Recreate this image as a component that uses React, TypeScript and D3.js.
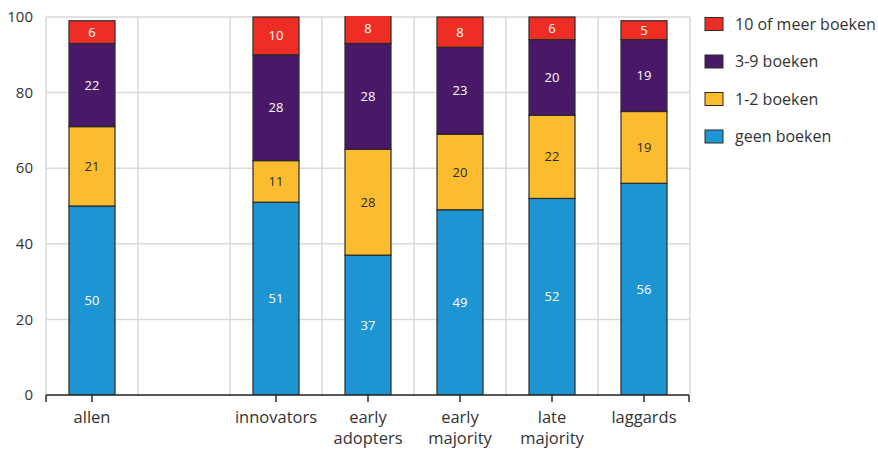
import React from "react";
import * as d3 from "d3";

// Categories on the x axis; the empty slot keeps a gap after "allen".
const categories: string[] = ["allen", "", "innovators", "early adopters", "early majority", "late majority", "laggards"];
const categoryLines: string[][] = [["allen"], [], ["innovators"], ["early", "adopters"], ["early", "majority"], ["late", "majority"], ["laggards"]];

// Stack series, bottom to top (percentages per category, null for the empty slot).
const geenBoeken: (number | null)[] = [50, null, 51, 37, 49, 52, 56];
const eenTweeBoeken: (number | null)[] = [21, null, 11, 28, 20, 22, 19];
const drieNegenBoeken: (number | null)[] = [22, null, 28, 28, 23, 20, 19];
const tienOfMeerBoeken: (number | null)[] = [6, null, 10, 8, 8, 6, 5];

const seriesNames: string[] = ["geen boeken", "1-2 boeken", "3-9 boeken", "10 of meer boeken"];
const seriesColors: string[] = ["#1e95d3", "#fbbc2f", "#4a1869", "#ee2e24"];
const labelColors: string[] = ["#ffffff", "#2b2b2b", "#ffffff", "#ffffff"];

const yTicks: number[] = [0, 20, 40, 60, 80, 100];

const FONT = "'Open Sans', 'DejaVu Sans', sans-serif";

export default function App() {
  const width = 878;
  const height = 449;
  const left = 46;
  const right = 690;
  const top = 17;
  const bottom = 395;

  const x = d3.scaleBand<string>().domain(categories.map((c, i) => String(i))).range([left, right]).paddingInner(0).paddingOuter(0);
  const y = d3.scaleLinear().domain([0, 100]).range([bottom, top]);
  const barW = x.bandwidth() / 2;

  const series = [geenBoeken, eenTweeBoeken, drieNegenBoeken, tienOfMeerBoeken];

  const bars: React.ReactNode[] = [];
  const labels: React.ReactNode[] = [];
  categories.forEach((_, ci) => {
    if (geenBoeken[ci] == null) return;
    const cx = (x(String(ci)) as number) + x.bandwidth() / 2;
    let base = 0;
    series.forEach((s, si) => {
      const v = s[ci] as number;
      const y0 = y(base);
      const y1 = y(base + v);
      bars.push(
        <rect key={`b${ci}-${si}`} x={cx - barW / 2} y={y1} width={barW} height={y0 - y1}
          fill={seriesColors[si]} stroke="#2a2a2a" strokeWidth={1.2} />
      );
      labels.push(
        <text key={`l${ci}-${si}`} x={cx} y={(y0 + y1) / 2} dy="0.35em" textAnchor="middle"
          fontSize={13} fill={labelColors[si]} fontFamily={FONT}>{v}</text>
      );
      base += v;
    });
  });

  const boundaries = d3.range(categories.length + 1).map((i) => left + i * x.step());

  return (
    <svg width={width} height={height} style={{ position: "absolute", left: 0, top: 0, background: "#fff" }}>
      <defs>
        <clipPath id="plotClip">
          <rect x={left - 2} y={top - 1} width={right - left + 4} height={bottom - top + 1} />
        </clipPath>
      </defs>
      {/* grid */}
      {yTicks.map((t) => (
        <line key={`gy${t}`} x1={left} x2={right} y1={y(t)} y2={y(t)} stroke="#d9d9d9" strokeWidth={1.5} />
      ))}
      {boundaries.map((bx, i) => (
        <line key={`gx${i}`} x1={bx} x2={bx} y1={top} y2={bottom} stroke="#d9d9d9" strokeWidth={1.5} />
      ))}
      {/* stacked bars */}
      <g clipPath="url(#plotClip)">{bars}</g>
      {labels}
      {/* x axis */}
      <line x1={left} x2={right - 1} y1={bottom} y2={bottom} stroke="#2a2a2a" strokeWidth={1.5} />
      {[left, right - 1].map((tx, i) => (
        <line key={`te${i}`} x1={tx} x2={tx} y1={bottom} y2={bottom + 7} stroke="#2a2a2a" strokeWidth={1.5} />
      ))}
      {categories.map((c, i) => {
        if (!c) return null;
        const cx = (x(String(i)) as number) + x.bandwidth() / 2;
        return (
          <g key={`xt${i}`}>
            <line x1={cx} x2={cx} y1={bottom} y2={bottom + 7} stroke="#2a2a2a" strokeWidth={1.5} />
            {categoryLines[i].map((ln, li) => (
              <text key={li} x={cx} y={423 + li * 21} textAnchor="middle" fontSize={16.5} fill="#333" fontFamily={FONT}>{ln}</text>
            ))}
          </g>
        );
      })}
      {/* y tick labels */}
      {yTicks.map((t) => (
        <text key={`yt${t}`} x={33} y={y(t)} dy="0.35em" textAnchor="end" fontSize={15} fill="#333" fontFamily={FONT}>{t}</text>
      ))}
      {/* legend, top entry first */}
      {[3, 2, 1, 0].map((si, row) => {
        const cy = 24 + row * 37.5;
        return (
          <g key={`lg${si}`}>
            <rect x={705} y={cy - 6.5} width={18} height={13} fill={seriesColors[si]} stroke="#2a2a2a" strokeWidth={1} />
            <text x={735} y={cy} dy="0.35em" fontSize={16} fill="#333" fontFamily={FONT}>{seriesNames[si]}</text>
          </g>
        );
      })}
    </svg>
  );
}
